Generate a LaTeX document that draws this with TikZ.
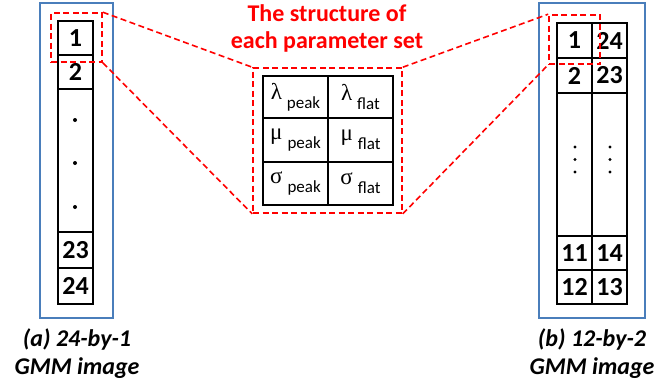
\documentclass[tikz,border=0pt]{standalone}
\usepackage{fontspec}
\setmainfont{Carlito}
\newfontfamily\serifg{Liberation Serif}
\begin{document}
\begin{tikzpicture}[x=1pt,y=-1pt,
  cell/.style={draw=black,line width=1.6pt,inner sep=0pt,minimum width=35pt,font=\fontsize{26}{26}\selectfont\bfseries},
  tcell/.style={draw=black,line width=2.4pt,inner sep=0pt,minimum width=65pt,font=\fontsize{23}{23}\selectfont},
  frame/.style={draw=frameblue,line width=1.4pt,minimum height=315pt,inner sep=0pt},
  redbox/.style={draw=red,line width=1.6pt,dash pattern=on 6pt off 3.5pt},
  captext/.style={align=center,font=\fontsize{24}{28}\selectfont\bfseries\itshape}]
\useasboundingbox (0,0) rectangle (658,386);
\definecolor{frameblue}{RGB}{74,126,187}
% blue frames
\node[frame,minimum width=73pt] (fa) at (76.5,160.5) {};
\node[frame,minimum width=106pt] (fb) at (592,160.5) {};
% left column
\node[cell,minimum height=34pt] (a1) at (75.5,38) {1};
\node[cell,minimum height=34pt] (a2) at (75.5,72) {2};
\node[cell,minimum height=143pt] (ad) at (75.5,160.5) {};
\node[cell,minimum height=36pt] (a23) at (75.5,250) {23};
\node[cell,minimum height=36pt] (a24) at (75.5,286) {24};
\foreach \yy in {120,163,207} \fill (75,\yy) circle (2pt);
% right columns
\node[cell,minimum height=35pt] (b1) at (574.5,40.5) {1};
\node[cell,minimum height=35pt] (b24) at (609.5,40.5) {24};
\node[cell,minimum height=35pt] (b2) at (574.5,75.5) {2};
\node[cell,minimum height=35pt] (b23) at (609.5,75.5) {23};
\node[cell,minimum height=143pt] (bdl) at (574.5,164.5) {};
\node[cell,minimum height=143pt] (bdr) at (609.5,164.5) {};
\node[cell,minimum height=34pt] (b11) at (574.5,253) {11};
\node[cell,minimum height=34pt] (b14) at (609.5,253) {14};
\node[cell,minimum height=34pt] (b12) at (574.5,287) {12};
\node[cell,minimum height=34pt] (b13) at (609.5,287) {13};
\foreach \yy in {147,159.5,172} {\fill (575,\yy) circle (1.7pt); \fill (610,\yy) circle (1.7pt);}
% parameter table
\newcommand{\pcell}[2]{{\serifg #1}\hspace{5pt}\raisebox{-9pt}{\fontsize{17}{17}\selectfont #2}}
\node[tcell,minimum height=42pt] (lp) at (295.5,97) {\pcell{λ}{peak}};
\node[tcell,minimum height=42pt] (lf) at (360.5,97) {\pcell{λ}{flat}};
\node[tcell,minimum height=44pt] (mp) at (295.5,140) {\pcell{μ}{peak}};
\node[tcell,minimum height=44pt] (mf) at (360.5,140) {\pcell{μ}{flat}};
\node[tcell,minimum height=43pt] (sp) at (295.5,183.5) {\pcell{σ}{peak}};
\node[tcell,minimum height=43pt] (sf) at (360.5,183.5) {\pcell{σ}{flat}};
% red dashed boxes
\node[redbox,minimum width=51pt,minimum height=49pt,inner sep=0pt] (ra) at (76.5,37.5) {};
\node[redbox,minimum width=51pt,minimum height=49pt,inner sep=0pt] (rb) at (574.5,39.5) {};
\node[redbox,minimum width=149pt,minimum height=145pt,inner sep=0pt] (rm) at (327.5,140.5) {};
\draw[redbox] (ra.north east) -- (rm.north west);
\draw[redbox] (ra.south east) -- (rm.south west);
\draw[redbox] (rm.north east) -- (rb.north west);
\draw[redbox] (rm.south east) -- (rb.south west);
% title
\node[align=center,text=red,font=\fontsize{24}{27}\selectfont\bfseries] (title) at (327,28.5) {The structure of\\each parameter set};
% captions
\node[captext] (capa) at (77,354) {(a) 24-by-1\\GMM image};
\node[captext] (capb) at (592,354) {(b) 12-by-2\\GMM image};
\end{tikzpicture}
\end{document}
